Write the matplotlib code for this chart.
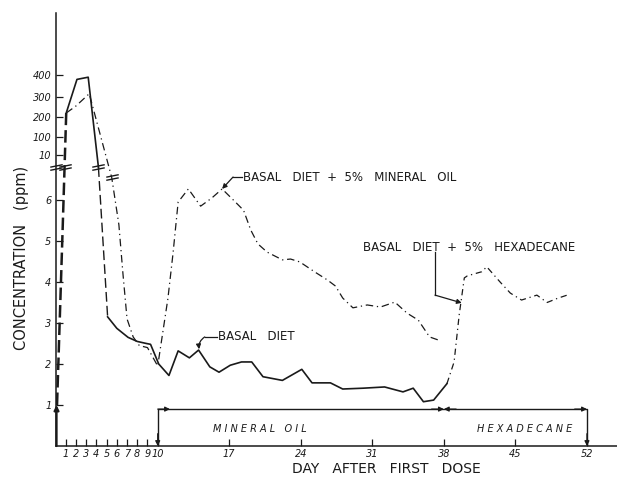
import numpy as np
import matplotlib
matplotlib.use("Agg")
import matplotlib.pyplot as plt
from matplotlib.path import Path

# ---------------- data ----------------
rise_day = [0.15, 0.7, 1.05]
rise_val = [1.0, 5.3, 220]

basal_peak_day = [1.05, 2.1, 3.2, 4.2]
basal_peak_val = [220, 380, 390, 6.8]

basal_drop_day = [4.2, 5.1]
basal_drop_val = [6.8, 3.15]

basal_day = [5.1, 6.0, 7.1, 8.0, 8.9, 9.3, 10.1, 11.1, 12.0, 13.1, 14.0, 15.1, 16.0,
             17.1, 18.2, 19.2, 20.3, 22.2, 24.1, 25.1, 26.9, 28.1, 30.1, 32.2, 34.0,
             35.0, 36.0, 37.0, 38.3]
basal_val = [3.15, 2.87, 2.65, 2.55, 2.5, 2.48, 2.0, 1.72, 2.32, 2.15, 2.34, 1.93, 1.8,
             1.97, 2.05, 2.05, 1.69, 1.6, 1.87, 1.54, 1.54, 1.39, 1.41, 1.44, 1.32,
             1.41, 1.08, 1.12, 1.52]

mineral_day = [1.05, 2.0, 3.3, 5.5, 6.2, 6.6, 7.0, 7.6, 8.2, 9.0, 10.0, 11.0, 11.5,
               12.0, 13.0, 14.2, 15.3, 16.3, 17.4, 18.4, 19.1, 19.8, 20.7, 22.2, 23.0,
               23.9, 25.4, 26.6, 27.4, 28.1, 29.1, 30.5, 31.8, 33.2, 34.4, 35.5, 36.6,
               37.4]
mineral_val = [220, 255, 315, 6.55, 5.4, 4.2, 3.1, 2.66, 2.45, 2.4, 1.95, 3.6, 4.7,
               5.95, 6.27, 5.85, 6.05, 6.27, 6.0, 5.75, 5.27, 4.93, 4.73, 4.54, 4.56,
               4.49, 4.24, 4.05, 3.9, 3.61, 3.37, 3.44, 3.39, 3.51, 3.24, 3.07, 2.66,
               2.59]

hexa_day = [38.3, 39.0, 39.5, 40.0, 40.3, 41.7, 42.2, 43.5, 44.5, 45.6, 47.1, 48.1,
            49.1, 50.3]
hexa_val = [1.52, 2.05, 3.2, 4.1, 4.15, 4.25, 4.37, 4.0, 3.73, 3.56, 3.68, 3.5,
            3.6, 3.7]

x_ticks = [1, 2, 3, 4, 5, 6, 7, 8, 9, 10, 17, 24, 31, 38, 45, 52]
x_ticklabels = ["1", "2", "3", "4", "5", "6", "7", "8", "9", "10",
                "17", "24", "31", "38", "45", "52"]
y_ticks = [1, 2, 3, 4, 5, 6, 10, 100, 200, 300, 400]
y_ticklabels = ["1", "2", "3", "4", "5", "6", "10", "100", "200", "300", "400"]

# ---------------- broken-axis scale ----------------
KNOT_V = [0, 6.8, 10, 100, 200, 300, 400, 700]
KNOT_P = [0, 278.8, 291, 309, 329, 349, 371, 433]


def fwd(v):
    return np.interp(np.asarray(v, dtype=float), KNOT_V, KNOT_P)


def inv(p):
    return np.interp(np.asarray(p, dtype=float), KNOT_P, KNOT_V)


INK = "#1a1a1a"
plt.rcParams["font.family"] = ["DejaVu Sans"]

fig = plt.figure(figsize=(6.17, 4.80), dpi=100)
ax = fig.add_axes([55.5 / 617, 34 / 480, (617 - 55.5) / 617, 433 / 480])
ax.set_yscale("function", functions=(fwd, inv))
ax.set_xlim(0, 54.94)
ax.set_ylim(0, 700)

for s in ("top", "right"):
    ax.spines[s].set_visible(False)
for s in ("left", "bottom"):
    ax.spines[s].set_linewidth(1.1)
    ax.spines[s].set_color(INK)

ax.set_xticks(x_ticks)
ax.set_xticklabels(x_ticklabels, fontsize=7, style="italic", color=INK)
ax.set_yticks(y_ticks)
ax.set_yticklabels(y_ticklabels, fontsize=7, style="italic", color=INK)
ax.minorticks_off()
ax.tick_params(axis="both", direction="in", length=5, width=0.9, color=INK, pad=3)
ax.tick_params(axis="x", pad=2)

# series
ax.plot(rise_day, rise_val, color=INK, lw=1.8, dashes=(5, 2))
ax.plot(basal_peak_day, basal_peak_val, color=INK, lw=1.2)
ax.plot(basal_drop_day, basal_drop_val, color=INK, lw=1.0, dashes=(7, 3))
ax.plot(basal_day, basal_val, color=INK, lw=1.2)
ax.plot(mineral_day, mineral_val, color=INK, lw=0.9, dashes=(6, 3, 1, 3))
ax.plot(hexa_day, hexa_val, color=INK, lw=0.9, dashes=(5, 3, 1, 3))

# first-dose arrow
ax.annotate("", xy=(0.1, 1.0), xytext=(0.1, 0),
            arrowprops=dict(arrowstyle="-|>", color=INK, lw=1.6, mutation_scale=7,
                            shrinkA=0, shrinkB=0))

# break marks
brk = Path([(-1, 0.05), (1, 0.45), (-1, -0.45), (1, -0.05)],
           [Path.MOVETO, Path.LINETO, Path.MOVETO, Path.LINETO])
ax.plot([0, 0.95, 4.2, 5.5], [6.85, 6.85, 6.8, 6.55], linestyle="none", marker=brk,
        markersize=9, markeredgewidth=1.0, color=INK, clip_on=False)

# treatment bracket
ax.plot([10, 10, 52, 52], [0, 0.9, 0.9, 0], color=INK, lw=1.0)
arw = dict(arrowstyle="-|>", color=INK, lw=0.9, mutation_scale=7, shrinkA=0, shrinkB=0)
ax.annotate("", xy=(10, 0.0), xytext=(10, 0.3), arrowprops=arw)
ax.annotate("", xy=(52, 0.0), xytext=(52, 0.3), arrowprops=arw)
ax.annotate("", xy=(11.2, 0.9), xytext=(10, 0.9), arrowprops=arw)
ax.annotate("", xy=(38, 0.9), xytext=(36.8, 0.9), arrowprops=arw)
ax.annotate("", xy=(38, 0.9), xytext=(39.2, 0.9), arrowprops=arw)
ax.annotate("", xy=(52, 0.9), xytext=(50.8, 0.9), arrowprops=arw)

ax.text(20.0, 0.415, "M I N E R A L   O I L", fontsize=7, style="italic",
        ha="center", va="center", color=INK)
ax.text(45.9, 0.415, "H E X A D E C A N E", fontsize=7, style="italic",
        ha="center", va="center", color=INK)

# series labels with leaders
lab = dict(fontsize=8.5, color=INK, va="center", ha="left")
ax.text(18.35, 6.56, "BASAL   DIET  +  5%   MINERAL   OIL", **lab)
ax.plot([18.2, 17.37], [6.56, 6.56], color=INK, lw=0.9)
ax.annotate("", xy=(16.3, 6.27), xytext=(17.37, 6.56), arrowprops=arw)

ax.text(30.1, 4.85, "BASAL   DIET  +  5%   HEXADECANE", **lab)
ax.plot([37.13, 37.13], [4.72, 3.68], color=INK, lw=0.9)
ax.annotate("", xy=(39.75, 3.49), xytext=(37.13, 3.68), arrowprops=arw)

ax.text(15.9, 2.66, "BASAL   DIET", **lab)
ax.plot([15.8, 14.6], [2.66, 2.66], color=INK, lw=0.9)
ax.annotate("", xy=(14.05, 2.36), xytext=(14.6, 2.66),
            arrowprops=dict(arw, connectionstyle="arc3,rad=0.3"))

# axis titles
fig.text(386 / 617, 1 - 469 / 480, "DAY   AFTER   FIRST   DOSE", fontsize=10,
         ha="center", va="center", color=INK)
fig.text(22 / 617, 1 - 258 / 480, "CONCENTRATION   (ppm)", fontsize=10.5,
         rotation=90, ha="center", va="center", color=INK)

fig.savefig("out.png", dpi=100)
